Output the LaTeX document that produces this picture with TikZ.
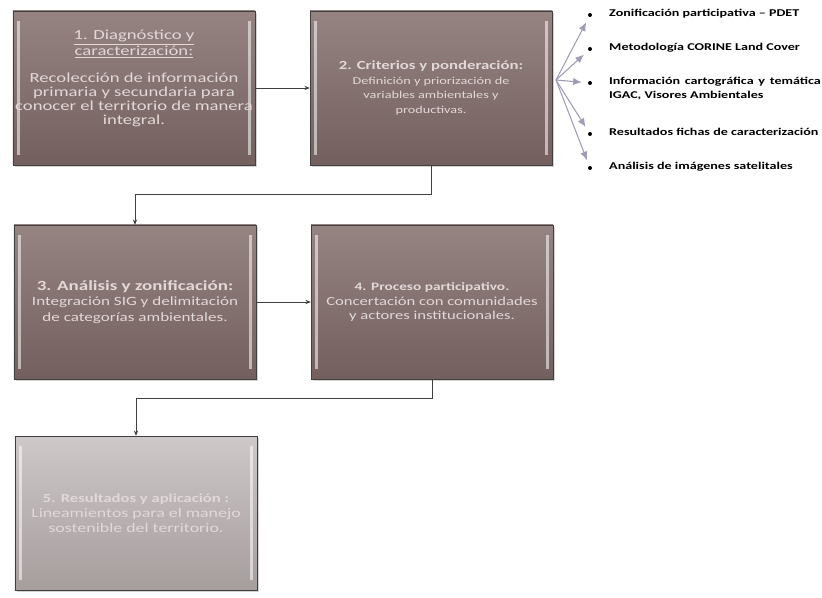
\documentclass[tikz,border=0pt]{standalone}
\usepackage{fontspec}
\setmainfont[FakeStretch=1.35]{Carlito}
\usepackage{tikz}
\usetikzlibrary{arrows.meta, positioning, shadows, calc}
\definecolor{stagetop}{RGB}{150, 132, 131}
\definecolor{stagebot}{RGB}{114, 95, 94}
\definecolor{lasttop}{RGB}{206, 200, 200}
\definecolor{lastbot}{RGB}{166, 157, 157}
\definecolor{stagetext}{RGB}{226, 216, 216}
\definecolor{fancolor}{RGB}{160, 156, 182}

\begin{document}
\begin{tikzpicture}[
    x=0.3mm, y=-0.3mm,
    bevel/.style={path picture={
        \fill[white, opacity=0.55] ([xshift=1.2mm, yshift=-3mm]path picture bounding box.north west) rectangle ([xshift=2.0mm, yshift=3mm]path picture bounding box.south west);
        \fill[white, opacity=0.55] ([xshift=-2.0mm, yshift=-3mm]path picture bounding box.north east) rectangle ([xshift=-1.2mm, yshift=3mm]path picture bounding box.south east);
    }},
    stage/.style={draw=black!75, top color=stagetop, bottom color=stagebot, minimum width=72.6mm, minimum height=46.2mm, inner xsep=1pt, align=center, text=stagetext, bevel, drop shadow={shadow xshift=0.6mm, shadow yshift=-0.6mm, opacity=0.35}},
    laststage/.style={stage, top color=lasttop, bottom color=lastbot},
    link/.style={-{Stealth[length=1.6mm, width=1.3mm]}, draw=black!75, line width=0.6pt},
    fanarrow/.style={-{Latex[length=2.6mm, width=2.2mm]}, draw=fancolor, line width=0.9pt, shorten >=1.8mm},
    bulletdot/.style={circle, fill=black, inner sep=0pt, minimum size=3.4pt},
    listitem/.style={anchor=north west, inner sep=0pt, text width=63.5mm, align=justify, font=\fontsize{8.9}{11.5}\selectfont\bfseries}
]
    \useasboundingbox (0,0) rectangle (822,598);

    % Stages (left column)
    \node[stage, font=\fontsize{11.8}{12}\selectfont] (diag) at (134,88) {\underline{1. Diagnóstico y}\\\underline{caracterización:}\\[4mm]Recolección de información\\primaria y secundaria para\\conocer el territorio de manera\\integral.\\[2mm]};
    \node[stage, font=\fontsize{9}{12.5}\selectfont] (crit) at (431,88) {{\fontsize{10.6}{12.5}\selectfont\textbf{2. Criterios y ponderación:}}\\Definición y priorización de\\variables ambientales y\\productivas.};
    \node[stage, font=\fontsize{10.8}{13}\selectfont] (anal) at (135,302) {{\fontsize{12}{13}\selectfont\textbf{3. Análisis y zonificación:}}\\Integración SIG y delimitación\\de categorías ambientales.};
    \node[stage, font=\fontsize{10.5}{12}\selectfont] (part) at (432,302) {{\fontsize{9.7}{12}\selectfont\textbf{4. Proceso participativo.}}\\Concertación con comunidades\\y actores institucionales.};
    \node[laststage, font=\fontsize{11.3}{13}\selectfont] (res) at (136,513) {{\fontsize{10.5}{13}\selectfont\textbf{5. Resultados y aplicación :}}\\Lineamientos para el manejo\\sostenible del territorio.};

    % Connections between stages
    \coordinate (turnA) at (0,194);
    \coordinate (turnB) at (0,398);
    \draw[link] (diag) -- (crit);
    \draw[link] (crit.south) -- (crit.south |- turnA) -| (anal.north);
    \draw[link] (anal) -- (part);
    \draw[link] (part.south) -- (part.south |- turnB) -| (res.north);

    % Sources list (right)
    \coordinate (fan) at (556,80);
    \foreach \i/\y in {1/15, 2/49, 3/83, 4/134, 5/168}
        \node[bulletdot] (dot\i) at (590,\y) {};
    \node[listitem] (zon) at (609,9) {Zonificación participativa – PDET};
    \node[listitem] (corine) at (609,43) {Metodología CORINE Land Cover};
    \node[listitem] (igac) at (609,77) {Información cartográfica y temática\linebreak IGAC, Visores Ambientales};
    \node[listitem] (fichas) at (609,128) {Resultados fichas de caracterización};
    \node[listitem] (sat) at (609,162) {Análisis de imágenes satelitales};
    \foreach \i in {1,...,5}
        \draw[fanarrow] (fan) -- (dot\i);

\end{tikzpicture}
\end{document}
